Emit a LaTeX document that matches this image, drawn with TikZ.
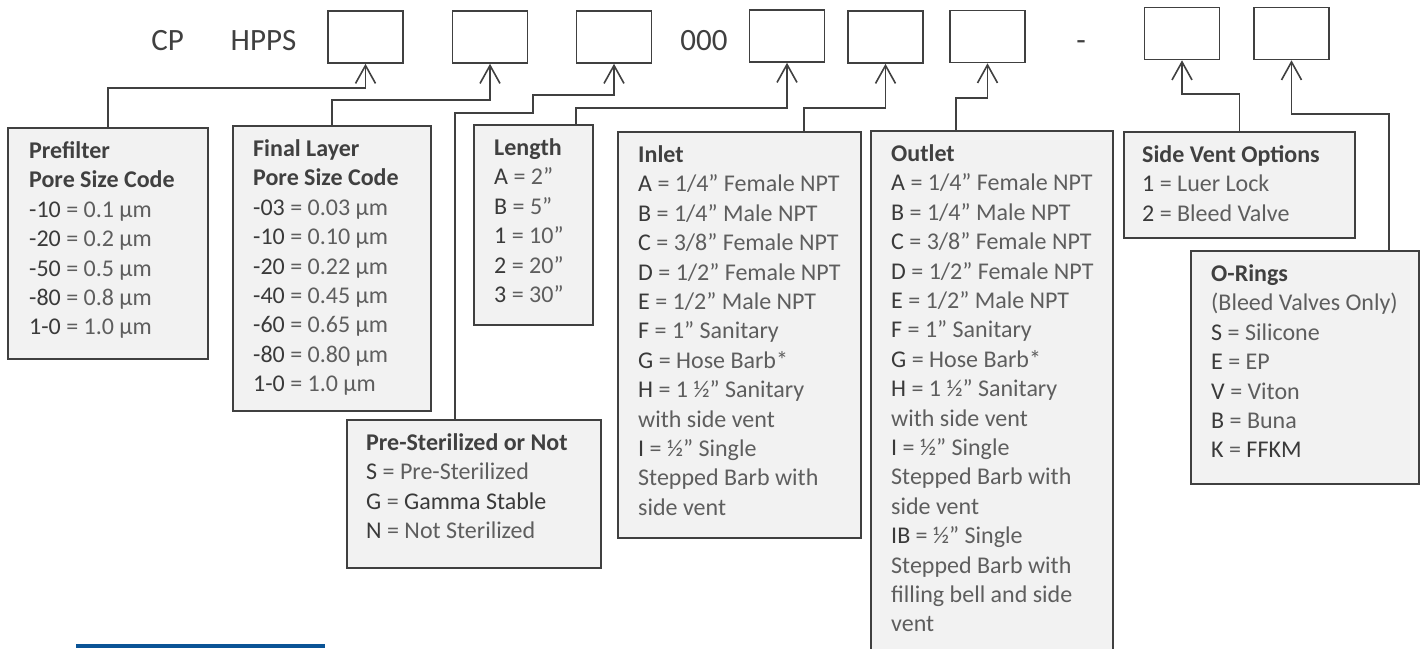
\documentclass[tikz,border=0pt]{standalone}
\usepackage{fontspec}
\setmainfont{Carlito}
\usetikzlibrary{arrows.meta}

\definecolor{edge}{HTML}{404040}
\definecolor{code}{HTML}{3A3A3A}
\definecolor{val}{HTML}{5E5E5E}
\definecolor{panelgray}{HTML}{F2F2F2}
\definecolor{band}{RGB}{10,84,150}

\newcommand{\head}[1]{{\bfseries\color{edge}#1}}
\newcommand{\opt}[2]{{\color{code}#1} = #2}

\begin{document}
\begin{tikzpicture}[x=1pt,y=1pt,
	slot/.style={draw=edge,line width=1.6pt,minimum width=75pt,minimum height=52pt,inner sep=0pt},
	panel/.style={draw=edge,fill=panelgray,line width=1.8pt,anchor=north west,inner sep=0pt},
	lines/.style={anchor=north west,align=left,inner sep=0pt,text=val,
		font=\fontsize{24}{29.4}\selectfont,execute at begin node=\strut},
	big/.style={anchor=base,text=edge,font=\fontsize{31}{36}\selectfont},
	link/.style={draw=edge,line width=1.6pt,-{Straight Barb[length=18pt,width=20pt]}}]

	\useasboundingbox (0,0) rectangle (1424,-648);

	\node[big] (cp) at (167.6,-50) {CP};
	\node[big] (hpps) at (263.5,-50) {HPPS};
	\node[big] (zeros) at (704,-50) {000};
	\node[big] (dash) at (1081,-50) {-};

	\node[slot] (s1) at (365.5,-37) {};
	\node[slot] (s2) at (490,-37) {};
	\node[slot] (s3) at (614,-37) {};
	\node[slot] (s4) at (787,-36) {};
	\node[slot] (s5) at (885.5,-37) {};
	\node[slot] (s6) at (987.5,-36.5) {};
	\node[slot] (s7) at (1182,-33.5) {};
	\node[slot] (s8) at (1291.5,-33.5) {};

	\coordinate (bend3) at (533,-113);



	\node[panel,minimum width=200pt,minimum height=231pt] (pre) at (7,-127) {};
	\node[panel,minimum width=198pt,minimum height=285pt] (fin) at (232,-125) {};
	\node[panel,minimum width=119pt,minimum height=200pt] (len) at (473,-124) {};
	\node[panel,minimum width=254pt,minimum height=148pt] (ster) at (346,-419) {};
	\node[panel,minimum width=243pt,minimum height=406pt] (inl) at (617,-131) {};
	\node[panel,minimum width=242pt,minimum height=530pt] (outl) at (870,-130) {};
	\node[panel,minimum width=231pt,minimum height=106pt] (vent) at (1123,-131) {};
	\node[panel,minimum width=228pt,minimum height=233pt] (ring) at (1190,-250) {};

	\node[lines] (pretxt) at ([xshift=22pt,yshift=-14.4pt]pre.north west) {\head{Prefilter}\\
		\head{Pore Size Code}\\ \opt{-10}{0.1 µm}\\ \opt{-20}{0.2 µm}\\
		\opt{-50}{0.5 µm}\\ \opt{-80}{0.8 µm}\\ \opt{1-0}{1.0 µm}};
	\node[lines] (fintxt) at ([xshift=21pt,yshift=-14.4pt]fin.north west) {\head{Final Layer}\\
		\head{Pore Size Code}\\ \opt{-03}{0.03 µm}\\ \opt{-10}{0.10 µm}\\
		\opt{-20}{0.22 µm}\\ \opt{-40}{0.45 µm}\\ \opt{-60}{0.65 µm}\\
		\opt{-80}{0.80 µm}\\ \opt{1-0}{1.0 µm}};
	\node[lines] (lentxt) at ([xshift=21pt,yshift=-14.4pt]len.north west) {\head{Length}\\
		\opt{A}{2”}\\ \opt{B}{5”}\\ \opt{1}{10”}\\ \opt{2}{20”}\\ \opt{3}{30”}};
	\node[lines] (stertxt) at ([xshift=20pt,yshift=-14.4pt]ster.north west) {\head{Pre-Sterilized or Not}\\
		\opt{S}{Pre-Sterilized}\\ \opt{G}{\color{code}Gamma Stable}\\ \opt{N}{Not Sterilized}};
	\node[lines] (inltxt) at ([xshift=21pt,yshift=-14.4pt]inl.north west) {\head{Inlet}\\
		\opt{A}{1/4” Female NPT}\\ \opt{B}{1/4” Male NPT}\\ \opt{C}{3/8” Female NPT}\\
		\opt{D}{1/2” Female NPT}\\ \opt{E}{1/2” Male NPT}\\ \opt{F}{1” Sanitary}\\
		\opt{G}{Hose Barb*}\\ \opt{H}{1 ½” Sanitary}\\ with side vent\\
		\opt{I}{½” Single}\\ Stepped Barb with\\ side vent};
	\node[lines] (outltxt) at ([xshift=21pt,yshift=-14.4pt]outl.north west) {\head{Outlet}\\
		\opt{A}{1/4” Female NPT}\\ \opt{B}{1/4” Male NPT}\\ \opt{C}{3/8” Female NPT}\\
		\opt{D}{1/2” Female NPT}\\ \opt{E}{1/2” Male NPT}\\ \opt{F}{1” Sanitary}\\
		\opt{G}{Hose Barb*}\\ \opt{H}{1 ½” Sanitary}\\ with side vent\\
		\opt{I}{½” Single}\\ Stepped Barb with\\ side vent\\
		\opt{IB}{½” Single}\\ Stepped Barb with\\ filling bell and side\\ vent};
	\node[lines] (venttxt) at ([xshift=19pt,yshift=-14.4pt]vent.north west) {\head{Side Vent Options}\\
		\opt{1}{Luer Lock}\\ \opt{2}{Bleed Valve}};
	\node[lines] (ringtxt) at ([xshift=21pt,yshift=-14.4pt]ring.north west) {\head{O-Rings}\\
		(Bleed Valves Only)\\ \opt{S}{Silicone}\\ \opt{E}{EP}\\ \opt{V}{Viton}\\
		\opt{B}{Buna}\\ \opt{K}{\color{code}FFKM}};



	\draw[link] (pre.north) |- ([yshift=-24pt]s1.south) -- (s1.south);
	\draw[link] (fin.north) |- ([yshift=-36pt]s2.south) -- (s2.south);
	\draw[link] ([xshift=-19pt]ster.north) |- (bend3) |- ([yshift=-31pt]s3.south) -- (s3.south);
	\draw[link] ([xshift=42.5pt]len.north) |- ([yshift=-45pt]s4.south) -- (s4.south);
	\draw[link] ([xshift=64.5pt]inl.north) |- ([yshift=-44pt]s5.south) -- (s5.south);
	\draw[link] ([xshift=-36pt]outl.north) |- ([yshift=-34.5pt]s6.south) -- (s6.south);
	\draw[link] (vent.north) |- ([yshift=-33.5pt]s7.south) -- (s7.south);
	\draw[link] ([xshift=84pt]ring.north) |- ([yshift=-53.5pt]s8.south) -- (s8.south);

	\fill[band] (76,-644) rectangle (325,-648);

\end{tikzpicture}
\end{document}
